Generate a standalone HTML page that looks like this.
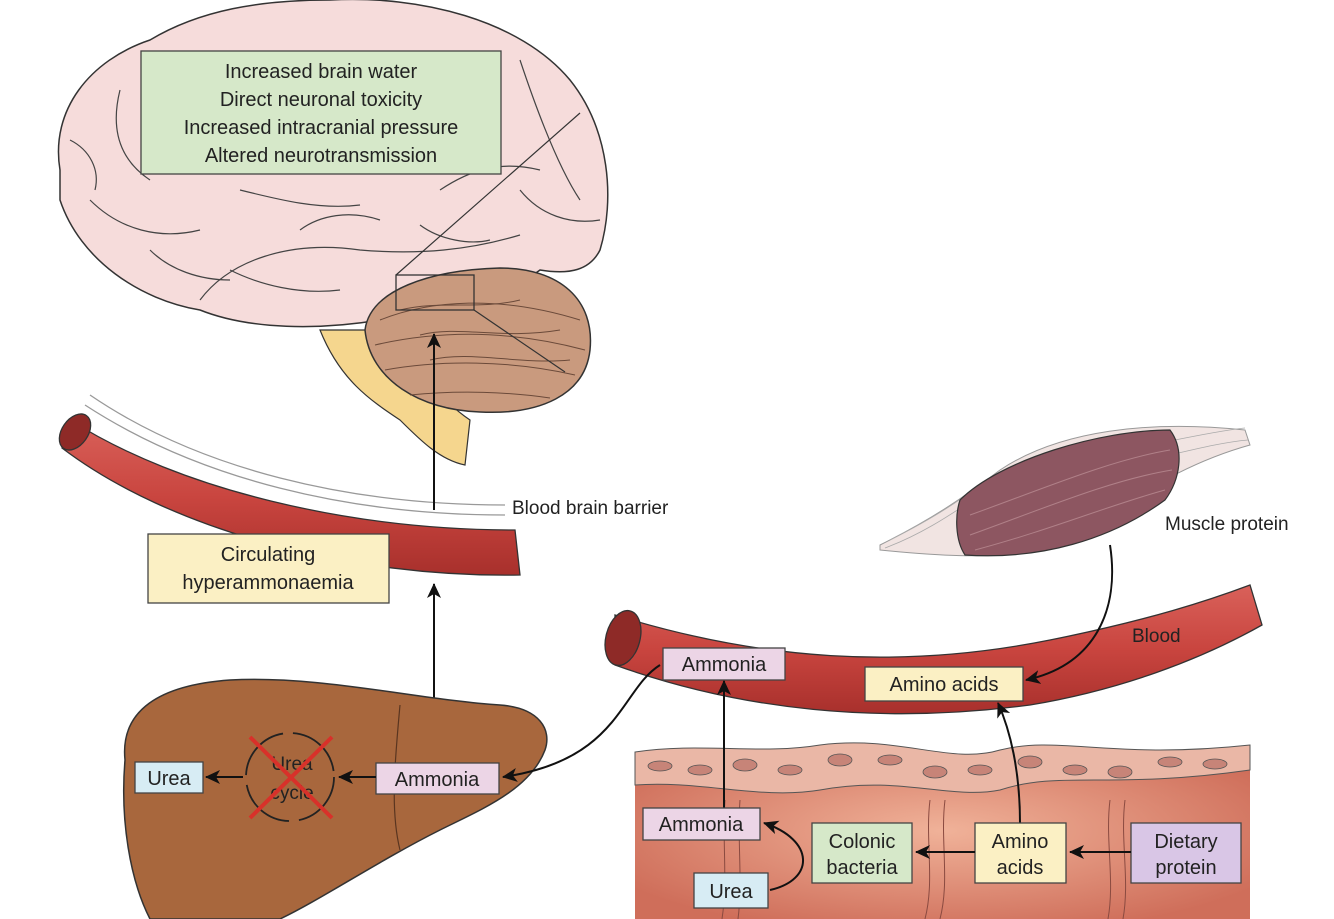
<!DOCTYPE html>
<html><head><meta charset="utf-8"><style>
html,body{margin:0;padding:0;background:#fff;}
svg{display:block;}
text{font-family:"Liberation Sans",sans-serif;fill:#222;}
</style></head><body>
<svg width="1334" height="919" viewBox="0 0 1334 919" xmlns="http://www.w3.org/2000/svg">
<defs>
<marker id="ah" markerWidth="16" markerHeight="14" refX="14" refY="7" orient="auto" markerUnits="userSpaceOnUse"><path d="M0,0 L15,7 L0,14 L4,7 Z" fill="#111"/></marker>
<linearGradient id="ves" x1="0" y1="0" x2="0" y2="1"><stop offset="0" stop-color="#d9615a"/><stop offset="0.5" stop-color="#c9453f"/><stop offset="1" stop-color="#a8302c"/></linearGradient>
<radialGradient id="col" cx="0.5" cy="0.5" r="0.6"><stop offset="0" stop-color="#f0b299"/><stop offset="1" stop-color="#cf6e5a"/></radialGradient>
</defs>

<path d="M320,330 C340,380 370,400 400,420 C420,440 440,460 465,465 L470,420 C440,400 420,370 410,330 Z" fill="#f5d68e" stroke="#333" stroke-width="1.2"/>
<path d="M60,170 C50,110 90,60 150,40 C200,10 260,0 330,0 C420,-5 520,20 570,80 C610,130 615,200 600,250 C590,270 570,275 540,270 C500,300 450,320 380,320 C320,330 250,330 200,310 C140,300 80,260 60,200 Z" fill="#f6dcdb" stroke="#333" stroke-width="1.5"/>
<g stroke="#444" stroke-width="1.2" fill="none">
<path d="M200,300 C230,260 290,240 360,250 C420,255 470,250 520,235"/>
<path d="M90,200 C120,230 160,240 200,230"/>
<path d="M520,60 C540,120 560,170 580,200"/>
<path d="M120,90 C110,130 120,160 150,180"/>
<path d="M240,190 C280,200 320,210 360,205"/>
<path d="M440,190 C470,170 500,160 540,170"/>
<path d="M230,270 C260,285 300,295 340,290"/>
<path d="M520,190 C540,215 570,225 600,220"/>
<path d="M70,140 C90,150 100,170 95,190"/>
<path d="M150,250 C170,270 200,280 230,280"/>
<path d="M300,230 C320,215 350,210 380,220"/>
<path d="M420,225 C440,240 470,245 490,240"/>
</g>
<path d="M365,330 C370,290 430,270 500,268 C560,268 595,300 590,350 C585,395 540,415 480,412 C420,410 370,380 365,330 Z" fill="#c99a7e" stroke="#333" stroke-width="1.5"/>
<g stroke="#6b4a3a" stroke-width="1" fill="none">
<path d="M380,320 C430,300 500,295 580,320"/><path d="M375,345 C440,330 510,330 585,350"/><path d="M385,370 C440,360 510,360 575,375"/><path d="M410,395 C460,390 510,392 550,398"/>
<path d="M400,310 C440,300 480,310 520,300"/><path d="M420,335 C460,325 500,340 560,330"/><path d="M430,360 C470,350 520,365 570,360"/>
</g>
<rect x="396" y="275" width="78" height="35" fill="none" stroke="#333" stroke-width="1.3"/>
<line x1="396" y1="275" x2="580" y2="113" stroke="#333" stroke-width="1.2"/>
<line x1="474" y1="310" x2="565" y2="372" stroke="#333" stroke-width="1.2"/>
<rect x="141" y="51" width="360" height="123" fill="#d6e8c9" stroke="#444" stroke-width="1.3"/>
<text x="321" y="78" font-size="20" text-anchor="middle">Increased brain water</text>
<text x="321" y="106" font-size="20" text-anchor="middle">Direct neuronal toxicity</text>
<text x="321" y="134" font-size="20" text-anchor="middle">Increased intracranial pressure</text>
<text x="321" y="162" font-size="20" text-anchor="middle">Altered neurotransmission</text>

<path d="M90,395 C200,470 350,505 505,505" fill="none" stroke="#999" stroke-width="1.3"/>
<path d="M85,405 C200,480 350,515 505,515" fill="none" stroke="#999" stroke-width="1.3"/>
<path d="M70,420 C180,490 350,530 515,530 L520,575 C350,578 170,530 62,448 Z" fill="url(#ves)" stroke="#333" stroke-width="1.3"/>
<ellipse cx="75" cy="432" rx="13" ry="20" transform="rotate(35 75 432)" fill="#8e2a27" stroke="#333" stroke-width="1.3"/>
<text x="512" y="514" font-size="19">Blood brain barrier</text>
<rect x="148" y="534" width="241" height="69" fill="#fbf0c4" stroke="#444" stroke-width="1.3"/>
<text x="268" y="561" font-size="20" text-anchor="middle">Circulating</text>
<text x="268" y="589" font-size="20" text-anchor="middle">hyperammonaemia</text>

<line x1="434" y1="510" x2="434" y2="334" stroke="#111" stroke-width="2" marker-end="url(#ah)"/>
<line x1="434" y1="763" x2="434" y2="584" stroke="#111" stroke-width="2" marker-end="url(#ah)"/>

<path d="M125,760 C120,710 160,685 230,680 C320,675 420,700 500,705 C540,708 552,730 545,750 C530,790 480,810 440,830 C380,860 320,900 280,919 L150,919 C130,880 120,820 125,760 Z" fill="#a8673d" stroke="#333" stroke-width="1.5"/>
<path d="M400,705 C395,760 390,810 400,850" fill="none" stroke="#5a3520" stroke-width="1.2"/>
<rect x="135" y="762" width="68" height="31" fill="#d7ecf4" stroke="#444" stroke-width="1.3"/>
<text x="169" y="785" font-size="20" text-anchor="middle">Urea</text>
<line x1="243" y1="777" x2="206" y2="777" stroke="#111" stroke-width="2" marker-end="url(#ah)"/>
<circle cx="290" cy="777" r="44" fill="none" stroke="#222" stroke-width="1.8" stroke-dasharray="60 10"/>
<text x="292" y="770" font-size="19" text-anchor="middle">Urea</text>
<text x="292" y="799" font-size="19" text-anchor="middle">cycle</text>
<line x1="250" y1="737" x2="332" y2="818" stroke="#d8312a" stroke-width="4"/>
<line x1="332" y1="737" x2="250" y2="818" stroke="#d8312a" stroke-width="4"/>
<rect x="376" y="763" width="123" height="31" fill="#ecd5e6" stroke="#444" stroke-width="1.3"/>
<text x="437" y="786" font-size="20" text-anchor="middle">Ammonia</text>
<line x1="376" y1="777" x2="339" y2="777" stroke="#111" stroke-width="2" marker-end="url(#ah)"/>

<path d="M880,545 C930,520 960,500 1000,470 C1060,430 1150,420 1245,430 L1250,445 C1160,470 1110,520 1040,550 C990,560 930,555 880,550 Z" fill="#f1e4e2" stroke="#999" stroke-width="1"/>
<g stroke="#aaa" stroke-width="0.8" fill="none"><path d="M885,548 C920,535 950,515 965,505"/><path d="M890,540 C920,525 945,510 962,498"/><path d="M1175,440 C1200,435 1225,430 1245,428"/><path d="M1170,455 C1200,448 1225,442 1248,440"/></g>
<path d="M960,500 C1000,460 1100,430 1170,430 C1185,450 1180,480 1165,500 C1110,540 1040,560 965,555 C955,540 955,515 960,500 Z" fill="#8d5661" stroke="#333" stroke-width="1.2"/>
<g stroke="#b08088" stroke-width="1" fill="none"><path d="M970,515 C1040,490 1110,460 1170,450"/><path d="M970,535 C1040,510 1110,480 1172,470"/><path d="M975,550 C1050,530 1110,505 1165,490"/></g>
<text x="1165" y="530" font-size="19">Muscle protein</text>

<path d="M615,615 C760,660 900,670 1050,640 C1150,620 1210,600 1250,585 L1262,625 C1200,660 1120,690 1030,705 C880,725 740,710 615,665 Z" fill="url(#ves)" stroke="#333" stroke-width="1.3"/>
<ellipse cx="623" cy="638" rx="17" ry="28" transform="rotate(15 623 638)" fill="#8e2a27" stroke="#333" stroke-width="1.3"/>
<text x="1132" y="642" font-size="19">Blood</text>
<rect x="663" y="648" width="122" height="32" fill="#ecd5e6" stroke="#444" stroke-width="1.3"/>
<text x="724" y="671" font-size="20" text-anchor="middle">Ammonia</text>
<rect x="865" y="667" width="158" height="34" fill="#fbf0c4" stroke="#444" stroke-width="1.3"/>
<text x="944" y="691" font-size="20" text-anchor="middle">Amino acids</text>
<path d="M1110,545 C1120,610 1095,665 1026,680" fill="none" stroke="#111" stroke-width="2" marker-end="url(#ah)"/>
<path d="M660,665 C620,690 620,760 503,777" fill="none" stroke="#111" stroke-width="2" marker-end="url(#ah)"/>

<path d="M635,752 C700,742 760,755 820,745 C900,735 950,765 1000,750 C1060,735 1110,760 1250,745 L1250,919 L635,919 Z" fill="url(#col)"/>
<path d="M635,752 C700,742 760,755 820,745 C900,735 950,765 1000,750 C1060,735 1110,760 1250,745 L1250,770 C1110,790 1060,770 1000,790 C950,800 900,775 820,790 C760,800 700,780 635,785 Z" fill="#eab7a6" stroke="#555" stroke-width="1"/>
<g fill="#c78478" stroke="#555" stroke-width="0.8">
<ellipse cx="660" cy="766" rx="12" ry="5"/><ellipse cx="700" cy="770" rx="12" ry="5"/><ellipse cx="745" cy="765" rx="12" ry="6"/><ellipse cx="790" cy="770" rx="12" ry="5"/><ellipse cx="840" cy="760" rx="12" ry="6"/><ellipse cx="890" cy="760" rx="12" ry="5"/><ellipse cx="935" cy="772" rx="12" ry="6"/><ellipse cx="980" cy="770" rx="12" ry="5"/><ellipse cx="1030" cy="762" rx="12" ry="6"/><ellipse cx="1075" cy="770" rx="12" ry="5"/><ellipse cx="1120" cy="772" rx="12" ry="6"/><ellipse cx="1170" cy="762" rx="12" ry="5"/><ellipse cx="1215" cy="764" rx="12" ry="5"/>
</g>
<g stroke="#8a4a40" stroke-width="1" fill="none">
<path d="M725,800 C722,840 728,880 722,919"/><path d="M930,800 C925,840 935,880 925,919"/><path d="M1110,800 C1105,840 1115,880 1108,919"/>
<path d="M740,800 C737,840 743,880 738,919"/><path d="M945,800 C940,840 950,880 940,919"/><path d="M1125,800 C1120,840 1130,880 1123,919"/>
</g>
<line x1="724" y1="808" x2="724" y2="681" stroke="#111" stroke-width="2" marker-end="url(#ah)"/>
<path d="M1020,823 C1020,770 1010,730 998,703" fill="none" stroke="#111" stroke-width="2" marker-end="url(#ah)"/>
<rect x="643" y="808" width="117" height="32" fill="#ecd5e6" stroke="#444" stroke-width="1.3"/>
<text x="701" y="831" font-size="20" text-anchor="middle">Ammonia</text>
<rect x="812" y="823" width="100" height="60" fill="#d6e8c9" stroke="#444" stroke-width="1.3"/>
<text x="862" y="848" font-size="20" text-anchor="middle">Colonic</text>
<text x="862" y="874" font-size="20" text-anchor="middle">bacteria</text>
<rect x="975" y="823" width="91" height="60" fill="#fbf0c4" stroke="#444" stroke-width="1.3"/>
<text x="1020" y="848" font-size="20" text-anchor="middle">Amino</text>
<text x="1020" y="874" font-size="20" text-anchor="middle">acids</text>
<rect x="1131" y="823" width="110" height="60" fill="#d9c6e6" stroke="#444" stroke-width="1.3"/>
<text x="1186" y="848" font-size="20" text-anchor="middle">Dietary</text>
<text x="1186" y="874" font-size="20" text-anchor="middle">protein</text>
<rect x="694" y="873" width="74" height="35" fill="#d7ecf4" stroke="#444" stroke-width="1.3"/>
<text x="731" y="898" font-size="20" text-anchor="middle">Urea</text>
<line x1="975" y1="852" x2="916" y2="852" stroke="#111" stroke-width="2" marker-end="url(#ah)"/>
<line x1="1131" y1="852" x2="1070" y2="852" stroke="#111" stroke-width="2" marker-end="url(#ah)"/>
<path d="M770,890 C815,880 815,840 764,823" fill="none" stroke="#111" stroke-width="2" marker-end="url(#ah)"/>
</svg>
</body></html>
